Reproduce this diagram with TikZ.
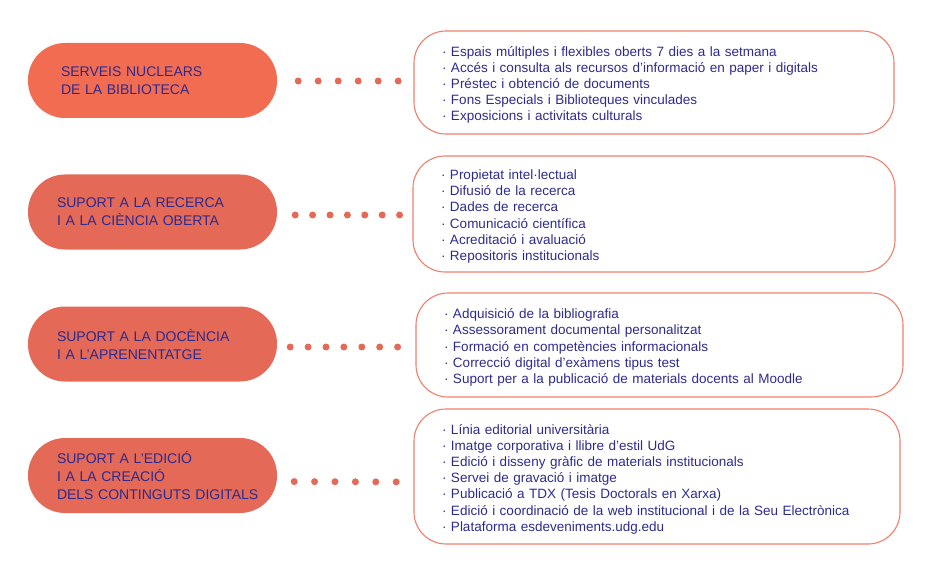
\documentclass[tikz,border=0pt]{standalone}
\usepackage{fontspec}
\setmainfont{Liberation Sans}
\definecolor{pillA}{HTML}{F26C52}
\definecolor{pillB}{HTML}{E46A57}
\definecolor{inkblue}{HTML}{2D2A8E}
\definecolor{rim}{HTML}{F07E6C}
\begin{document}
\begin{tikzpicture}[x=1pt, y=-1pt,
  pill/.style={rectangle, rounded corners=37pt, fill=pillB, minimum width=249pt, minimum height=75pt,
    inner xsep=29pt, text width=191pt, align=left, text=inkblue, font=\fontsize{14}{18}\selectfont},
  listbox/.style={rectangle, rounded corners=32pt, draw=rim, line width=1.1pt, inner xsep=28pt,
    align=left, text=inkblue, font=\fontsize{13.5}{16.2}\selectfont,
    execute at begin node={\rule{0pt}{15pt}}},
  dotrow/.style={draw=pillB, line width=7pt, line cap=round}]
\useasboundingbox (0,0) rectangle (942,572);
% left column
\node[pill, fill=pillA, inner xsep=33pt, text width=183pt] (srv0) at (152.5,80.5) {SERVEIS NUCLEARS\\DE LA BIBLIOTECA};
\node[pill] (srv1) at (152.5,212) {SUPORT A LA RECERCA\\I A LA CIÈNCIA OBERTA};
\node[pill] (srv2) at (152.5,344) {SUPORT A LA DOCÈNCIA\\I A L’APRENENTATGE};
\node[pill] (srv3) at (152.5,475.5) {SUPORT A L’EDICIÓ\\I A LA CREACIÓ\\\mbox{DELS CONTINGUTS DIGITALS}};
% right column
\node[listbox, minimum width=480pt, minimum height=103pt, text width=424pt] (box0) at (654,82.5)
  {· Espais múltiples i flexibles oberts 7 dies a la setmana\\
   · Accés i consulta als recursos d’informació en paper i digitals\\
   · Préstec i obtenció de documents\\
   · Fons Especials i Biblioteques vinculades\\
   · Exposicions i activitats culturals};
\node[listbox, minimum width=482pt, minimum height=116pt, text width=426pt] (box1) at (654,214)
  {· Propietat intel·lectual\\
   · Difusió de la recerca\\
   · Dades de recerca\\
   · Comunicació científica\\
   · Acreditació i avaluació\\
   · Repositoris institucionals};
\node[listbox, minimum width=487pt, minimum height=104pt, text width=431pt] (box2) at (659.5,345)
  {· Adquisició de la bibliografia\\
   · Assessorament documental personalitzat\\
   · Formació en competències informacionals\\
   · Correcció digital d’exàmens tipus test\\
   · Suport per a la publicació de materials docents al Moodle};
\node[listbox, minimum width=486pt, minimum height=135pt, text width=430pt] (box3) at (657,476.5)
  {· Línia editorial universitària\\
   · Imatge corporativa i llibre d’estil UdG\\
   · Edició i disseny gràfic de materials institucionals\\
   · Servei de gravació i imatge\\
   · Publicació a TDX (Tesis Doctorals en Xarxa)\\
   · Edició i coordinació de la web institucional i de la Seu Electrònica\\
   · Plataforma esdeveniments.udg.edu};
% dotted links
\draw[dotrow, dash pattern=on 0pt off 20pt, shorten <=21pt, shorten >=13pt]
  ([yshift=-0.5pt]srv0.east) -- ([yshift=1.5pt]box0.west);
\draw[dotrow, dash pattern=on 0pt off 17.4pt, shorten <=18pt, shorten >=12pt]
  ([yshift=-3pt]srv1.east) -- ([yshift=-1pt]box1.west);
\draw[dotrow, dash pattern=on 0pt off 17.9pt, shorten <=13pt, shorten >=17pt]
  ([yshift=-3pt]srv2.east) -- ([yshift=-2pt]box2.west);
\draw[dotrow, dash pattern=on 0pt off 20.4pt, shorten <=17pt, shorten >=16pt]
  ([yshift=-6pt]srv3.east) -- ([yshift=-5.5pt]box3.west);
\end{tikzpicture}
\end{document}
